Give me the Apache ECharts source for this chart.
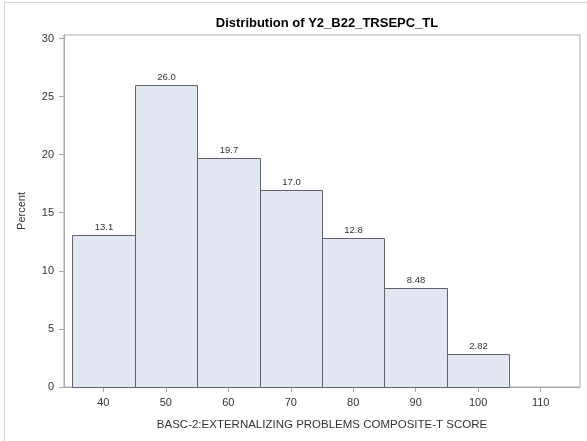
<!DOCTYPE html>
<html>
<head>
<meta charset="utf-8">
<script src="https://cdn.jsdelivr.net/npm/echarts@6/dist/echarts.min.js"></script>
<style>
  html, body { margin: 0; padding: 0; background: #fff; }
  #chart { width: 587px; height: 441px; }
</style>
</head>
<body>
<div id="chart"></div>
<script>
// Histogram bins (lower and upper edge) and the percent in each bin
const binStart = [35, 45, 55, 65, 75, 85, 95];
const binEnd   = [45, 55, 65, 75, 85, 95, 105];
const percents = [13.1, 26.0, 19.7, 17.0, 12.8, 8.48, 2.82];
const xTicks = [40, 50, 60, 70, 80, 90, 100, 110];
const yTicks = [0, 5, 10, 15, 20, 25, 30];

const FONT = '"Liberation Sans", Arial, sans-serif';
const chart = echarts.init(document.getElementById('chart'), null, { renderer: 'canvas' });

const data = binStart.map((s, i) => [s, binEnd[i], percents[i]]);

chart.setOption({
  animation: false,
  backgroundColor: '#ffffff',
  title: {
    text: 'Distribution of Y2_B22_TRSEPC_TL',
    left: 322, top: 12, textAlign: 'center',
    textStyle: { fontFamily: FONT, fontSize: 13, fontWeight: 'bold', color: '#000' }
  },
  grid: {
    left: 64, right: 7, top: 35, bottom: 54,
    show: true, borderColor: '#a8a8a8', borderWidth: 1, backgroundColor: 'transparent'
  },
  xAxis: {
    type: 'value', min: 33.7, max: 116.3,
    name: 'BASC-2:EXTERNALIZING PROBLEMS COMPOSITE-T SCORE',
    nameLocation: 'middle', nameGap: 32,
    nameTextStyle: { fontFamily: FONT, fontSize: 11.5, color: '#333' },
    splitLine: { show: false },
    axisLine: { show: true, lineStyle: { color: '#a8a8a8' } },
    axisTick: { show: true, length: 5, customValues: xTicks, lineStyle: { color: '#a8a8a8' } },
    axisLabel: { customValues: xTicks, fontFamily: FONT, fontSize: 11, color: '#333', margin: 10 }
  },
  yAxis: {
    type: 'value', min: 0, max: 30.3,
    name: 'Percent', nameLocation: 'middle', nameGap: 37,
    nameTextStyle: { fontFamily: FONT, fontSize: 11, color: '#333' },
    splitLine: { show: false },
    axisLine: { show: true, lineStyle: { color: '#a8a8a8' } },
    axisTick: { show: true, length: 5, customValues: yTicks, lineStyle: { color: '#a8a8a8' } },
    axisLabel: { customValues: yTicks, fontFamily: FONT, fontSize: 11, color: '#333', margin: 10 }
  },
  graphic: [
    { type: 'line', shape: { x1: 4.5, y1: 2.5, x2: 4.5, y2: 441 }, style: { stroke: '#d4d4d4', lineWidth: 1 }, silent: true },
    { type: 'line', shape: { x1: 4.5, y1: 2.5, x2: 587, y2: 2.5 }, style: { stroke: '#d4d4d4', lineWidth: 1 }, silent: true }
  ],
  series: [{
    type: 'custom',
    data: data,
    encode: { x: [0, 1], y: 2 },
    renderItem: function (params, api) {
      const p0 = api.coord([api.value(0), 0]);
      const p1 = api.coord([api.value(1), api.value(2)]);
      const x = Math.round(p0[0]) + 0.5;
      const w = Math.round(p1[0]) - Math.round(p0[0]);
      const yTop = Math.round(p1[1]) + 0.5;
      const h = Math.round(p0[1]) - Math.round(p1[1]);
      const v = api.value(2);
      return {
        type: 'group',
        children: [
          {
            type: 'rect',
            shape: { x: x, y: yTop, width: w, height: h },
            style: { fill: '#e3e7f1', stroke: '#60656b', lineWidth: 1 }
          },
          {
            type: 'text',
            style: {
              text: v.toPrecision(3),
              x: x + w / 2, y: yTop - 3,
              align: 'center', verticalAlign: 'bottom',
              fontFamily: FONT, fontSize: 9.5, fill: '#333'
            }
          }
        ]
      };
    }
  }]
});
</script>
</body>
</html>
